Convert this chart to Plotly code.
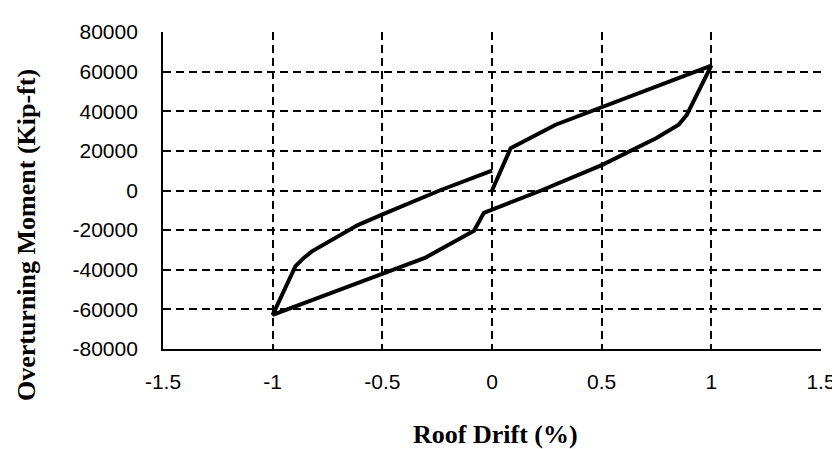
import plotly.graph_objects as go

# Hysteresis loop: roof drift (%) vs overturning moment (kip-ft)
drift = [0.0, 0.085, 0.29, 0.5, 1.0,
         0.888, 0.851, 0.75, 0.634, 0.503, 0.224, -0.037,
         -0.082, -0.2, -0.306, -0.507, -1.0,
         -0.896, -0.858, -0.821, -0.612, -0.507, -0.239, 0.0]
moment = [0, 21300, 33200, 42000, 63000,
          38200, 33200, 26500, 19900, 12950, 0, -11300,
          -20270, -27600, -34030, -42340, -62800,
          -38200, -34030, -30730, -17440, -12450, 0, 10000]

x_ticks = [-1.5, -1.0, -0.5, 0.0, 0.5, 1.0, 1.5]
x_ticktext = ["-1.5", "-1", "-0.5", "0", "0.5", "1", "1.5"]
y_ticks = [-80000, -60000, -40000, -20000, 0, 20000, 40000, 60000, 80000]
y_ticktext = ["-80000", "-60000", "-40000", "-20000", "0", "20000", "40000", "60000", "80000"]

x_title = "Roof Drift (%)"
y_title = "Overturning Moment (Kip-ft)"

fig = go.Figure()
fig.add_trace(go.Scatter(x=drift, y=moment, mode="lines",
                         line=dict(color="black", width=4),
                         showlegend=False))

L, R, T, B = 155, 16, 19, 108
W, H = 840, 449
pw, ph = W - L - R, H - T - B

tickfont = dict(family="Liberation Sans, Arial, sans-serif", size=21, color="black")
titlefont = dict(family="Liberation Serif, Times New Roman, serif", size=26, color="black")

fig.update_layout(
    width=W, height=H,
    margin=dict(l=L, r=R, t=T, b=B),
    paper_bgcolor="white", plot_bgcolor="white",
    xaxis=dict(range=[-1.5, 1.5], tickvals=x_ticks, ticktext=x_ticktext,
               showgrid=True, gridcolor="black", gridwidth=1.5, griddash="8px,5px",
               zeroline=False, showline=True, linecolor="black", linewidth=1.8,
               ticks="", tickfont=tickfont, ticklabelstandoff=13),
    yaxis=dict(range=[-80000, 80000], tickvals=y_ticks, ticktext=y_ticktext,
               showgrid=True, gridcolor="black", gridwidth=1.5, griddash="8px,5px",
               zeroline=False, showline=True, linecolor="black", linewidth=1.8,
               ticks="", tickfont=tickfont, ticklabelstandoff=19),
    annotations=[
        dict(text="<b>" + x_title + "</b>", xref="paper", yref="paper",
             x=(493.5 - L) / pw, y=(H - B - 428) / ph,
             xanchor="center", yanchor="middle", showarrow=False, font=titlefont),
        dict(text="<b>" + y_title + "</b>", xref="paper", yref="paper",
             x=(17 - L) / pw, y=(H - B - 225) / ph, textangle=-90,
             xanchor="center", yanchor="middle", showarrow=False, font=titlefont),
    ],
)

fig.write_html("out.html")
